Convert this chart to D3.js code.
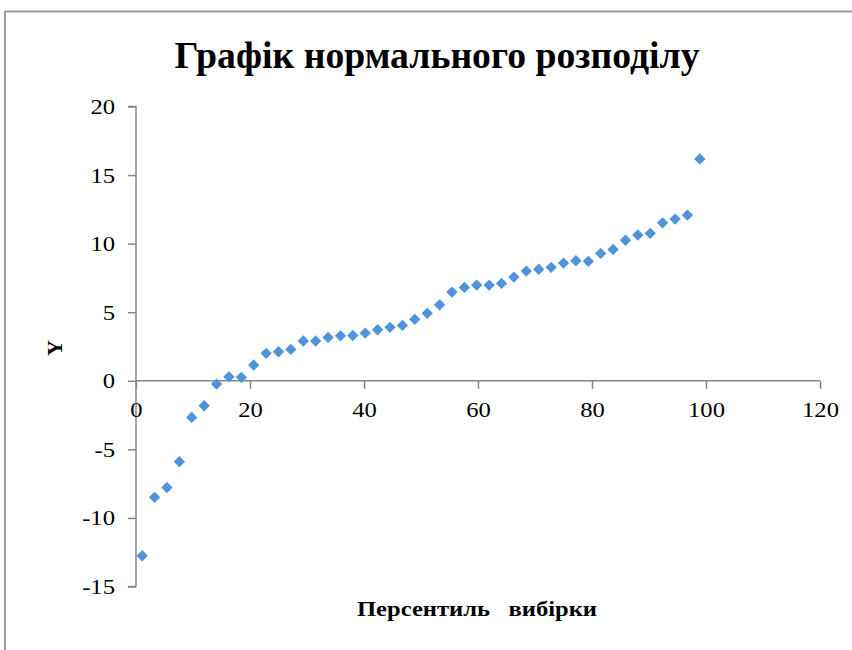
<!DOCTYPE html>
<html><head><meta charset="utf-8">
<script src="https://cdn.jsdelivr.net/npm/d3@7"></script>
<style>body{margin:0;background:#fff}svg{display:block}</style>
</head><body>
<svg id="c" width="852" height="650"></svg>
<script>
const titleText = "Графік нормального розподілу";
const xTitle = "Персентиль   вибірки";
const yTitle = "Y";
const xTicks = [0, 20, 40, 60, 80, 100, 120];
const yTicks = [-15, -10, -5, 0, 5, 10, 15, 20];
const percentile = [1.09, 3.26, 5.43, 7.61, 9.78, 11.96, 14.13, 16.30, 18.48, 20.65,
  22.83, 25.00, 27.17, 29.35, 31.52, 33.70, 35.87, 38.04, 40.22, 42.39,
  44.57, 46.74, 48.91, 51.09, 53.26, 55.43, 57.61, 59.78, 61.96, 64.13,
  66.30, 68.48, 70.65, 72.83, 75.00, 77.17, 79.35, 81.52, 83.70, 85.87,
  88.04, 90.22, 92.39, 94.57, 96.74, 98.91];
const yValues = [-12.76, -8.5, -7.78, -5.9, -2.67, -1.82, -0.24, 0.29, 0.25, 1.15,
  2.0, 2.12, 2.29, 2.9, 2.9, 3.16, 3.28, 3.3, 3.48, 3.72,
  3.9, 4.04, 4.48, 4.92, 5.54, 6.47, 6.81, 6.98, 6.98, 7.1,
  7.56, 8.0, 8.13, 8.27, 8.58, 8.75, 8.71, 9.29, 9.58, 10.25,
  10.63, 10.75, 11.52, 11.79, 12.08, 16.17];

const svg = d3.select("#c");
const font = "'Liberation Serif','Times New Roman',serif";
// frame
svg.append("line").attr("x1",5).attr("y1",11.5).attr("x2",852).attr("y2",11.5).attr("stroke","#9a9a9a").attr("stroke-width",2);
svg.append("line").attr("x1",5).attr("y1",11).attr("x2",5).attr("y2",650).attr("stroke","#9a9a9a").attr("stroke-width",2);

const x = d3.scaleLinear().domain([0,120]).range([136,820]);
const y = d3.scaleLinear().domain([-15,20]).range([586.5,106.5]);
const fmt = d => String(d); // plain hyphen-minus as in the original

const yAxis = d3.axisLeft(y).tickValues(yTicks).tickSize(8).tickPadding(13).tickFormat(fmt);
const gy = svg.append("g").attr("transform",`translate(${x(0)},0)`).call(yAxis);
const xAxis = d3.axisBottom(x).tickValues(xTicks).tickSize(8).tickPadding(13).tickFormat(fmt);
const gx = svg.append("g").attr("transform",`translate(0,${y(0)})`).call(xAxis);
[gx,gy].forEach(g=>{
  g.select(".domain").attr("stroke","#868686").attr("stroke-width",1.5);
  g.selectAll(".tick line").attr("stroke","#868686").attr("stroke-width",1.5);
  g.selectAll(".tick text").attr("font-family",font).attr("font-size",22).attr("fill","#000")
    .each(function(){ const t=d3.select(this); const n=this.getComputedTextLength(); t.attr("textLength",n*1.12).attr("lengthAdjust","spacingAndGlyphs"); });
});
gy.select(".domain").attr("d",`M-8,${y(20)}H0V${y(-15)}H-8`);
gx.select(".domain").attr("d",`M${x(0)},0H${x(120)}`);

const pts = percentile.map((p,i)=>({x:p,y:yValues[i]}));
const diamond = d3.symbol().type(d3.symbolDiamond2).size(82);
svg.append("g").selectAll("path").data(pts).join("path")
  .attr("d",diamond)
  .attr("transform",d=>`translate(${x(d.x)},${y(d.y)})`)
  .attr("fill","#4F93DB");

svg.append("text").attr("x",437).attr("y",68).attr("text-anchor","middle")
  .attr("font-family",font).attr("font-weight","bold").attr("font-size",37)
  .attr("textLength",525).attr("lengthAdjust","spacingAndGlyphs").text(titleText);
svg.append("text").attr("x",477).attr("y",616).attr("text-anchor","middle")
  .attr("font-family",font).attr("font-weight","bold").attr("font-size",21)
  .attr("textLength",240).attr("lengthAdjust","spacingAndGlyphs")
  .attr("xml:space","preserve").style("white-space","pre").text(xTitle);
svg.append("text").attr("transform","translate(62,348) rotate(-90)").attr("text-anchor","middle")
  .attr("font-family",font).attr("font-weight","bold").attr("font-size",22).text(yTitle);
</script>
</body></html>
